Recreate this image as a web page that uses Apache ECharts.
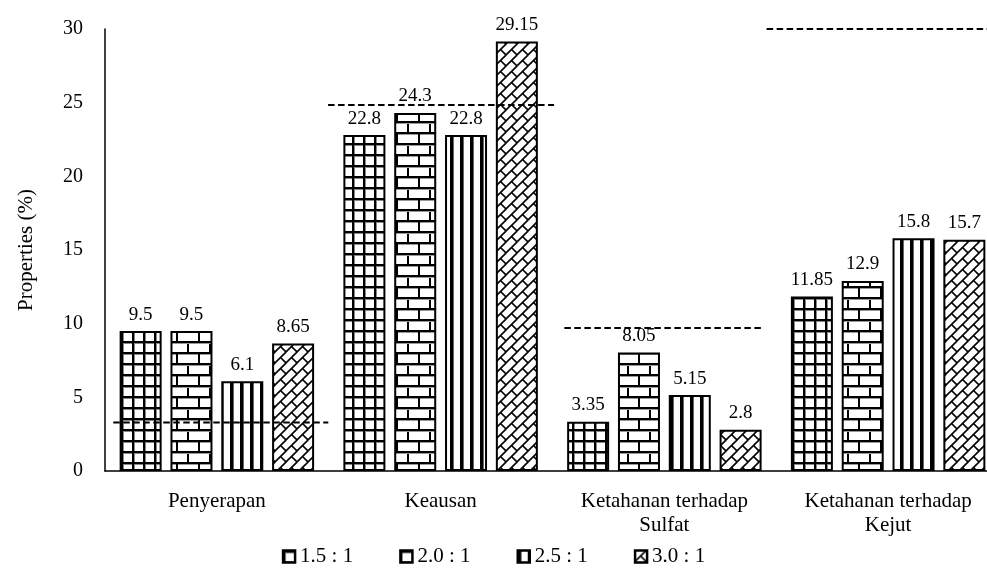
<!DOCTYPE html>
<html>
<head>
<meta charset="utf-8">
<script src="https://cdn.jsdelivr.net/npm/echarts@6/dist/echarts.min.js"></script>
<style>
  html, body { margin: 0; padding: 0; background: #fff; overflow: hidden; }
  #chart { width: 987px; height: 574px; }
</style>
</head>
<body>
<div id="chart"></div>
<script>
// Category names (x axis)
const categories = ['Penyerapan', 'Keausan', 'Ketahanan terhadap\nSulfat', 'Ketahanan terhadap\nKejut'];
// Mix ratios shown in the legend
const seriesNames = ['1.5 : 1', '2.0 : 1', '2.5 : 1', '3.0 : 1'];
// Measured properties (%) per ratio
const ratio15 = [9.5, 22.8, 3.35, 11.85];
const ratio20 = [9.5, 24.3, 8.05, 12.9];
const ratio25 = [6.1, 22.8, 5.15, 15.8];
const ratio30 = [8.65, 29.15, 2.8, 15.7];
// Requirement limit per property (dashed lines)
const limits = [3.3, 24.85, 9.7, 30];
// Y axis range
const yMin = 0, yMax = 30, yStep = 5;

// Horizontal extent of each limit line, in category-band units around the band centre
const limitSpan = [[-0.463, 0.498], [-0.503, 0.507], [-0.447, 0.447], [-0.543, 0.62]];

const FONT = '"Liberation Serif", "Times New Roman", serif';

function tile(w, h, draw) {
  const c = document.createElement('canvas');
  c.width = w; c.height = h;
  const g = c.getContext('2d');
  g.fillStyle = '#fff';
  g.fillRect(0, 0, w, h);
  draw(g, w, h);
  return { image: c, repeat: 'repeat' };
}

// square grid
const patGrid = tile(11, 11, (g) => {
  g.fillStyle = '#000';
  g.fillRect(0, 0, 2, 11);
  g.fillRect(0, 0, 11, 2);
  g.fillStyle = '#888';
  g.fillRect(2, 2, 1, 9);
  g.fillRect(3, 2, 8, 1);
});
// horizontal brick
const patBrick = tile(22, 22, (g) => {
  g.fillStyle = '#000';
  g.fillRect(0, 0, 22, 2);
  g.fillRect(0, 11, 22, 2);
  g.fillRect(0, 0, 2, 11);
  g.fillRect(11, 11, 2, 11);
  g.fillStyle = '#999';
  g.fillRect(2, 2, 20, 1);
  g.fillRect(0, 13, 22, 1);
});
// wide vertical stripes
const patStripe = tile(10, 10, (g) => {
  g.fillStyle = '#000';
  g.fillRect(0, 0, 3, 10);
  g.fillStyle = '#666';
  g.fillRect(3, 0, 1, 10);
});
// diagonal brick
const patDiag = tile(11, 11, (g) => {
  g.strokeStyle = '#000';
  g.lineWidth = 1.6;
  for (const o of [-11, 0, 11]) {
    g.beginPath();
    g.moveTo(-2 + o, 13);
    g.lineTo(13 + o, -2);
    g.stroke();
  }
  for (const o of [-11, 0]) {
    g.beginPath();
    g.moveTo(5.5 + o, 5.5 + o);
    g.lineTo(11 + o, 11 + o);
    g.stroke();
  }
});

const patterns = [patGrid, patBrick, patStripe, patDiag];
const values = [ratio15, ratio20, ratio25, ratio30];

const chart = echarts.init(document.getElementById('chart'), null, { renderer: 'canvas' });

const barSeries = seriesNames.map((name, i) => ({
  name: name,
  type: 'bar',
  data: values[i],
  barWidth: 42,
  barGap: '21%',
  itemStyle: { color: patterns[i], borderColor: '#000', borderWidth: 2 },
  label: {
    show: true,
    position: 'top',
    distance: 7,
    color: '#000',
    fontFamily: FONT,
    fontSize: 19
  },
  emphasis: { disabled: true },
  z: 2
}));

const limitSeries = {
  name: 'limit',
  type: 'custom',
  data: limits.map((v, i) => [i, v]),
  renderItem: function (params, api) {
    const idx = api.value(0);
    const pt = api.coord([idx, api.value(1)]);
    const band = api.size([1, 0])[0];
    const span = limitSpan[idx];
    return {
      type: 'line',
      shape: { x1: pt[0] + span[0] * band, y1: pt[1], x2: pt[0] + span[1] * band, y2: pt[1] },
      style: { stroke: '#000', lineWidth: 2, lineDash: [6.5, 3.5] }
    };
  },
  clip: false,
  silent: true,
  z: 5
};

chart.setOption({
  animation: false,
  backgroundColor: '#fff',
  textStyle: { fontFamily: FONT, color: '#000' },
  // plot area runs past the right edge of the canvas
  grid: { left: 105, width: 895, top: 29, bottom: 103, containLabel: false, outerBoundsMode: 'none' },
  legend: {
    data: seriesNames,
    bottom: 2,
    left: 'center',
    icon: 'rect',
    itemWidth: 12,
    itemHeight: 12,
    itemGap: 46,
    itemStyle: { borderColor: '#000', borderWidth: 2.5 },
    textStyle: { fontFamily: FONT, fontSize: 21, color: '#000', padding: [0, 0, 0, 0] }
  },
  xAxis: {
    type: 'category',
    data: categories,
    axisLine: { lineStyle: { color: '#000', width: 1.5 } },
    axisTick: { show: false },
    axisLabel: {
      color: '#000',
      fontFamily: FONT,
      fontSize: 21,
      lineHeight: 24,
      margin: 18,
      interval: 0
    }
  },
  yAxis: {
    type: 'value',
    min: yMin,
    max: yMax,
    interval: yStep,
    name: 'Properties (%)',
    nameLocation: 'middle',
    nameGap: 68,
    nameTextStyle: { fontFamily: FONT, fontSize: 21, color: '#000' },
    axisLine: { show: true, lineStyle: { color: '#000', width: 1.5 } },
    axisTick: { show: false },
    splitLine: { show: false },
    axisLabel: { color: '#000', fontFamily: FONT, fontSize: 20, margin: 22 }
  },
  series: barSeries.concat([limitSeries])
});
</script>
</body>
</html>
